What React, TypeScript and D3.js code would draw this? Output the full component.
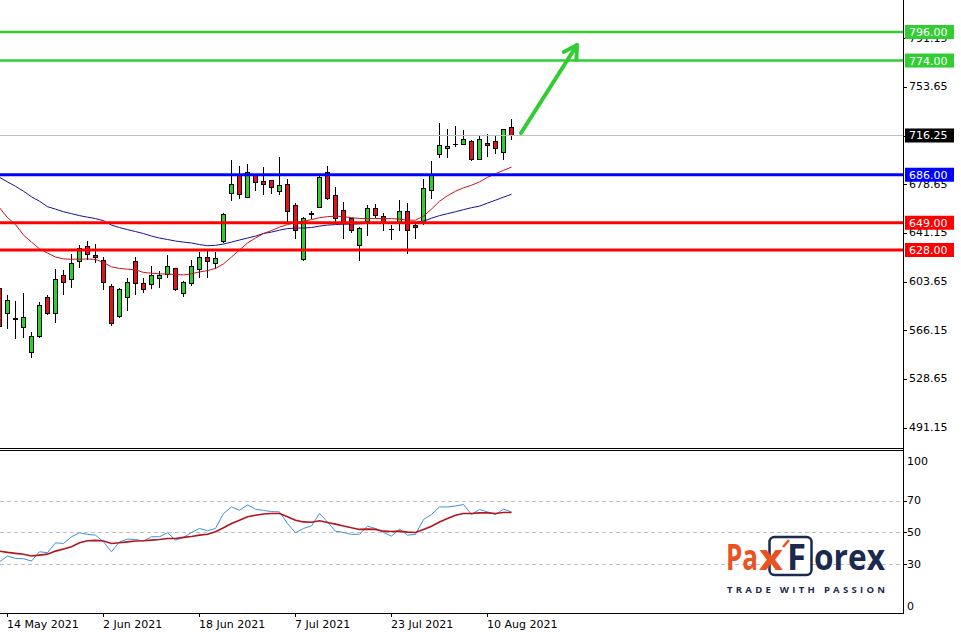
import React from "react";
import * as d3 from "d3";

// ---------- data ----------
const dates = [
  "2021-05-13", "2021-05-14", "2021-05-17", "2021-05-18", "2021-05-19", "2021-05-20", "2021-05-21",
  "2021-05-24", "2021-05-25", "2021-05-26", "2021-05-27", "2021-05-28",
  "2021-06-01", "2021-06-02", "2021-06-03", "2021-06-04", "2021-06-07", "2021-06-08", "2021-06-09",
  "2021-06-10", "2021-06-11", "2021-06-14", "2021-06-15", "2021-06-16", "2021-06-17", "2021-06-18",
  "2021-06-21", "2021-06-22", "2021-06-23", "2021-06-24", "2021-06-25", "2021-06-28", "2021-06-29",
  "2021-06-30", "2021-07-01", "2021-07-02", "2021-07-06", "2021-07-07", "2021-07-08", "2021-07-09",
  "2021-07-12", "2021-07-13", "2021-07-14", "2021-07-15", "2021-07-16", "2021-07-19", "2021-07-20",
  "2021-07-21", "2021-07-22", "2021-07-23", "2021-07-26", "2021-07-27", "2021-07-28", "2021-07-29",
  "2021-07-30", "2021-08-02", "2021-08-03", "2021-08-04", "2021-08-05", "2021-08-06", "2021-08-09",
  "2021-08-10", "2021-08-11", "2021-08-12", "2021-08-13",
];

const openP = [
  598.9, 579.4, 575.3, 568.4, 549.2, 561.5, 592.0, 579.4, 608.6, 605.5, 619.6, 630.8, 623.9, 620.3,
  600.2, 576.8, 591.7, 619.6, 602.5, 601.7, 606.8, 609.6, 614.0, 594.8, 602.5, 613.2, 622.4, 617.8,
  634.9, 672.0, 685.5, 668.9, 685.5, 680.9, 681.7, 673.5, 679.2, 662.5, 621.1, 656.0, 661.2, 688.1,
  670.2, 659.2, 652.3, 631.8, 650.2, 660.4, 654.3, 643.8, 649.7, 657.9, 647.2, 648.5, 674.6, 702.2,
  706.8, 709.8, 709.9, 711.8, 698.3, 710.6, 711.8, 703.4, 723.1,
];
const highP = [
  601.2, 593.5, 588.9, 595.0, 565.1, 588.1, 593.5, 613.4, 612.7, 624.9, 631.8, 634.9, 632.6, 622.4,
  601.7, 598.9, 606.3, 622.4, 606.3, 615.7, 612.1, 624.2, 614.2, 604.4, 620.3, 626.7, 628.0, 626.7,
  656.6, 697.0, 692.4, 694.0, 686.3, 691.9, 682.2, 699.6, 683.0, 664.3, 653.5, 657.9, 685.5, 692.4,
  676.6, 665.1, 652.8, 645.4, 662.5, 663.8, 656.2, 647.2, 666.9, 664.3, 649.7, 683.0, 696.5, 726.0,
  721.4, 723.9, 720.1, 712.4, 717.0, 717.5, 715.5, 721.6, 729.0,
];
const lowP = [
  568.2, 568.2, 560.5, 561.3, 545.9, 561.3, 578.9, 572.2, 594.2, 599.8, 615.2, 621.1, 619.0, 597.9,
  569.9, 576.6, 582.0, 594.2, 596.0, 599.1, 599.8, 607.5, 597.3, 592.2, 601.2, 607.5, 607.5, 614.0,
  634.4, 666.4, 667.7, 668.5, 674.6, 671.5, 672.0, 671.5, 649.7, 637.0, 620.3, 652.3, 661.0, 667.5,
  649.7, 637.0, 642.0, 620.3, 639.5, 653.5, 643.3, 636.2, 643.3, 625.9, 637.4, 648.3, 667.7, 699.3,
  699.6, 707.8, 709.7, 697.0, 698.1, 700.3, 702.6, 698.3, 713.7,
];
const closeP = [
  569.7, 589.6, 575.0, 576.6, 562.0, 585.8, 579.4, 605.5, 603.7, 617.8, 629.3, 624.7, 622.4, 603.2,
  571.8, 597.9, 603.7, 602.5, 597.9, 608.6, 608.6, 615.5, 597.9, 603.2, 615.5, 622.4, 619.6, 621.6,
  655.6, 678.9, 671.2, 688.1, 680.4, 679.2, 676.6, 677.9, 658.1, 643.3, 652.3, 656.3, 684.2, 667.7,
  652.3, 649.7, 643.3, 644.6, 660.0, 654.8, 648.5, 644.0, 657.9, 643.3, 645.4, 676.1, 685.5, 709.3,
  708.3, 710.0, 713.7, 698.3, 713.7, 709.1, 706.8, 721.4, 716.25,
];

const maFast = [
  660.5, 653.0, 647.6, 639.5, 634.1, 628.8, 625.7, 622.6, 621.1, 620.9, 620.9, 621.1, 620.7, 618.4,
  615.0, 613.8, 613.2, 612.7, 610.7, 610.1, 609.6, 609.4, 609.1, 608.8, 609.7, 611.1, 612.1, 613.8,
  617.3, 622.6, 628.0, 633.4, 637.2, 640.7, 643.0, 645.6, 647.6, 649.1, 650.2, 651.4, 652.9, 653.7,
  654.1, 653.7, 652.9, 652.3, 652.3, 652.3, 652.2, 652.2, 651.8, 651.0, 651.0, 654.1, 659.5, 665.6,
  669.8, 673.3, 675.9, 677.9, 680.5, 684.0, 686.7, 689.4, 691.9,
];
const maSlow = [
  684.0, 680.5, 677.1, 673.3, 669.0, 665.6, 661.4, 659.5, 657.5, 656.0, 654.5, 653.3, 652.2, 650.6,
  647.2, 645.3, 643.7, 642.2, 640.7, 638.7, 637.2, 636.1, 634.9, 634.1, 633.4, 632.2, 631.3, 631.6,
  632.6, 634.1, 635.7, 637.2, 638.7, 640.7, 641.8, 643.3, 644.5, 644.9, 645.0, 645.3, 646.4, 647.2,
  647.6, 647.9, 647.9, 648.2, 648.5, 648.7, 648.7, 648.9, 649.1, 649.2, 649.5, 650.2, 652.5, 654.5,
  656.0, 657.5, 659.1, 660.6, 661.8, 664.1, 666.4, 668.7, 671.0,
];

const rsi = [
  31.6, 35.2, 33.7, 33.5, 32.1, 37.9, 37.3, 43.5, 43.1, 47.3, 49.8, 48.8, 48.3, 44.1, 37.9, 44.1,
  45.8, 45.6, 44.6, 47.3, 47.3, 49.8, 45.2, 46.9, 50.0, 52.5, 51.0, 52.5, 61.9, 66.0, 63.9, 67.3,
  64.6, 63.8, 63.1, 62.9, 55.6, 49.8, 52.5, 54.1, 61.9, 56.6, 50.8, 50.0, 48.8, 48.9, 53.9, 52.5,
  50.0, 47.7, 52.1, 48.3, 48.8, 58.1, 61.3, 66.0, 66.0, 66.6, 67.5, 61.3, 64.4, 62.9, 61.3, 64.6, 62.9,
];
const rsiSignal = [
  38.3, 37.5, 36.9, 36.3, 35.2, 35.8, 36.4, 38.3, 39.6, 41.0, 43.5, 44.8, 45.0, 44.6, 43.1, 43.5,
  44.1, 44.6, 44.8, 45.2, 45.6, 46.2, 46.2, 46.9, 47.5, 48.3, 48.9, 50.4, 52.9, 55.6, 57.7, 59.8,
  60.8, 61.6, 61.9, 61.9, 59.8, 57.7, 56.6, 56.4, 57.3, 56.2, 55.2, 54.1, 52.9, 51.9, 52.1, 51.9,
  50.8, 50.6, 50.8, 50.2, 50.0, 51.9, 53.9, 56.6, 58.8, 60.8, 61.9, 61.9, 62.3, 62.3, 61.9, 62.5, 62.5,
];

const priceTicks = [491.15, 528.65, 566.15, 603.65, 641.15, 678.65, 716.15, 753.65, 791.15];
const rsiTicks = [100, 70, 50, 30, 0];
const rsiGrid = [70, 50, 30];
const dateTicks = ["2021-05-14", "2021-06-02", "2021-06-18", "2021-07-07", "2021-07-23", "2021-08-10"];
const levelValues = [796, 774, 686, 649, 628];
const levelKinds = ["target", "target", "pivot", "support", "support"];
const lastPrice = 716.25;
const arrowIdx = [65.25, 72.25];
const arrowPrice = [718.2, 786.0];

// ---------- styles ----------
const C = {
  bull: "#32cd32",
  bear: "#e0141c",
  target: "#32cd32",
  pivot: "#0000ff",
  support: "#ff0000",
  maFast: "#c8141e",
  maSlow: "#141490",
  rsi: "#3f93d8",
  rsiSig: "#b4141e",
  orange: "#e8531f",
  navy: "#1b2a4e",
};
const AX = "'DejaVu Sans', Verdana, sans-serif";

export default function App() {
  const n = dates.length;
  const plotR = 903;
  const x = d3.scaleLinear().domain([0, n - 1]).range([-1, 511]);
  const y = d3.scaleLinear().domain([628, 796]).range([250, 32]);
  const yr = d3.scaleLinear().domain([0, 100]).range([612.2, 452.7]);
  const fmtDate = d3.timeFormat("%-d %b %Y");
  const parse = d3.timeParse("%Y-%m-%d");

  const cx = (i: number) => Math.round(x(i));
  const mainLine = d3.line<number>().x((_, i) => cx(i) + 0.5).y((d) => y(d));
  const rsiLine = d3.line<number>().x((_, i) => cx(i) + 0.5).y((d) => yr(d));

  const candles = dates.map((d, i) => {
    const o = openP[i], c = closeP[i], h = highP[i], l = lowP[i];
    const px = cx(i);
    const top = Math.round(y(Math.max(o, c)));
    const bot = Math.round(y(Math.min(o, c)));
    const up = c >= o;
    return (
      <g key={d}>
        <line x1={px + 0.5} x2={px + 0.5} y1={Math.round(y(h))} y2={Math.round(y(l)) + 1} stroke="#000" strokeWidth={1} />
        {bot - top >= 1 ? (
          <rect x={px - 1.5} y={top + 0.5} width={4} height={bot - top} fill={up ? C.bull : C.bear} stroke="#000" strokeWidth={1} />
        ) : (
          <line x1={px - 2} x2={px + 3} y1={top + 0.5} y2={top + 0.5} stroke="#000" strokeWidth={1} />
        )}
      </g>
    );
  });

  const levelColor = (k: string) => (k === "target" ? C.target : k === "pivot" ? C.pivot : C.support);

  // arrow geometry (from scales)
  const ax0 = x(arrowIdx[0]), ay0 = y(arrowPrice[0]);
  const ax1 = x(arrowIdx[1]), ay1 = y(arrowPrice[1]);
  const ang = Math.atan2(ay0 - ay1, ax0 - ax1);
  const headLen = 15;
  const h1 = [ax1 + headLen * Math.cos(ang + Math.PI / 6), ay1 + headLen * Math.sin(ang + Math.PI / 6)];
  const h2 = [ax1 + headLen * Math.cos(ang - Math.PI / 6), ay1 + headLen * Math.sin(ang - Math.PI / 6)];

  return (
    <svg
      width={961}
      height={632}
      viewBox="0 0 961 632"
      style={{ position: "absolute", left: 0, top: 0, display: "block", background: "#fff" }}
    >
      <defs>
        <clipPath id="mainClip"><rect x={0} y={0} width={plotR} height={447} /></clipPath>
        <clipPath id="rsiClip"><rect x={0} y={451} width={plotR} height={162} /></clipPath>
      </defs>
      <rect x={0} y={0} width={961} height={632} fill="#fff" />

      {/* main panel */}
      <g clipPath="url(#mainClip)">
        {candles}
        <path d={mainLine(maSlow) || ""} fill="none" stroke={C.maSlow} strokeWidth={1} />
        <path d={mainLine(maFast) || ""} fill="none" stroke={C.maFast} strokeWidth={1} />
        <line x1={0} x2={plotR} y1={Math.round(y(lastPrice)) + 0.5} y2={Math.round(y(lastPrice)) + 0.5} stroke="#c0c0c0" strokeWidth={1} />
        {levelValues.map((v, i) => (
          <line key={v} x1={0} x2={plotR} y1={y(v)} y2={y(v)} stroke={levelColor(levelKinds[i])} strokeWidth={levelKinds[i] === "target" ? 2.5 : 3} />
        ))}
        <line x1={ax0} y1={ay0} x2={ax1} y2={ay1} stroke={C.target} strokeWidth={4} strokeLinecap="round" />
        <polyline points={`${h1[0]},${h1[1]} ${ax1},${ay1} ${h2[0]},${h2[1]}`} fill="none" stroke={C.target} strokeWidth={4} strokeLinecap="round" strokeLinejoin="round" />
      </g>

      {/* price axis */}
      <line x1={plotR + 0.5} x2={plotR + 0.5} y1={0} y2={613} stroke="#000" />
      <g fontFamily={AX} fontSize={11} fill="#000">
        {priceTicks.map((t) => (
          <g key={t}>
            <line x1={plotR} x2={plotR + 4} y1={Math.round(y(t)) + 0.5} y2={Math.round(y(t)) + 0.5} stroke="#000" />
            <text x={909} y={y(t)} dominantBaseline="central">{t.toFixed(2)}</text>
          </g>
        ))}
      </g>
      <g fontFamily={AX} fontSize={11}>
        {[...levelValues.map((v, i) => ({ v, col: levelColor(levelKinds[i]) })), { v: lastPrice, col: "#000" }].map((L) => (
          <g key={"lab" + L.v}>
            <rect x={905} y={y(L.v) - 7} width={49} height={14} fill={L.col} />
            <text x={909} y={y(L.v) + 0.5} dominantBaseline="central" fill="#fff">{L.v.toFixed(2)}</text>
          </g>
        ))}
      </g>

      {/* panel separator */}
      <line x1={0} x2={plotR + 1} y1={448.5} y2={448.5} stroke="#000" />
      <line x1={0} x2={plotR + 1} y1={450.5} y2={450.5} stroke="#000" />

      {/* RSI panel */}
      {rsiGrid.map((g) => (
        <line key={g} x1={0} x2={plotR} y1={Math.round(yr(g)) + 0.5} y2={Math.round(yr(g)) + 0.5} stroke="#c0c0c0" strokeDasharray="4,3" />
      ))}
      <g clipPath="url(#rsiClip)">
        <path d={rsiLine(rsi) || ""} fill="none" stroke={C.rsi} strokeWidth={1} />
        <path d={rsiLine(rsiSignal) || ""} fill="none" stroke={C.rsiSig} strokeWidth={1.6} />
      </g>
      <g fontFamily={AX} fontSize={11} fill="#000">
        {rsiTicks.map((t) => (
          <g key={"r" + t}>
            {t !== 100 && t !== 0 && (
              <line x1={plotR} x2={plotR + 4} y1={Math.round(yr(t)) + 0.5} y2={Math.round(yr(t)) + 0.5} stroke="#000" />
            )}
            <text x={907} y={Math.min(606, Math.max(461, yr(t)))} dominantBaseline="central">{t}</text>
          </g>
        ))}
      </g>

      {/* time axis */}
      <line x1={0} x2={plotR + 1} y1={613.5} y2={613.5} stroke="#000" />
      <g fontFamily={AX} fontSize={11} fill="#000">
        {dateTicks.map((d) => {
          const i = dates.indexOf(d);
          const px = cx(i);
          return (
            <g key={d}>
              <line x1={px + 0.5} x2={px + 0.5} y1={613} y2={617} stroke="#000" />
              <text x={px} y={628}>{fmtDate(parse(d) as Date)}</text>
            </g>
          );
        })}
      </g>

      {/* logo */}
      <g fontFamily="'Open Sans', 'Noto Sans', sans-serif" fontWeight={700}>
        <rect x={769.5} y={537} width={42} height={38} rx={5} fill="#fff" stroke={C.navy} strokeWidth={2.5} />
        <text x={726} y={570} fontSize={35} fill={C.orange} textLength={32} lengthAdjust="spacingAndGlyphs">Pa</text>
        <text x={759} y={570} fontSize={35} fill={C.orange} textLength={24} lengthAdjust="spacingAndGlyphs">x</text>
        <line x1={783} y1={547} x2={789} y2={540} stroke={C.orange} strokeWidth={2.5} />
        <text x={787} y={570} fontSize={35} fill={C.navy} textLength={19} lengthAdjust="spacingAndGlyphs">F</text>
        <text x={814} y={570} fontSize={35} fill={C.navy} textLength={71} lengthAdjust="spacingAndGlyphs">orex</text>
        <text x={727} y={593} fontSize={9.5} fill={C.navy} textLength={158} lengthAdjust="spacing">TRADE WITH PASSION</text>
      </g>
    </svg>
  );
}
